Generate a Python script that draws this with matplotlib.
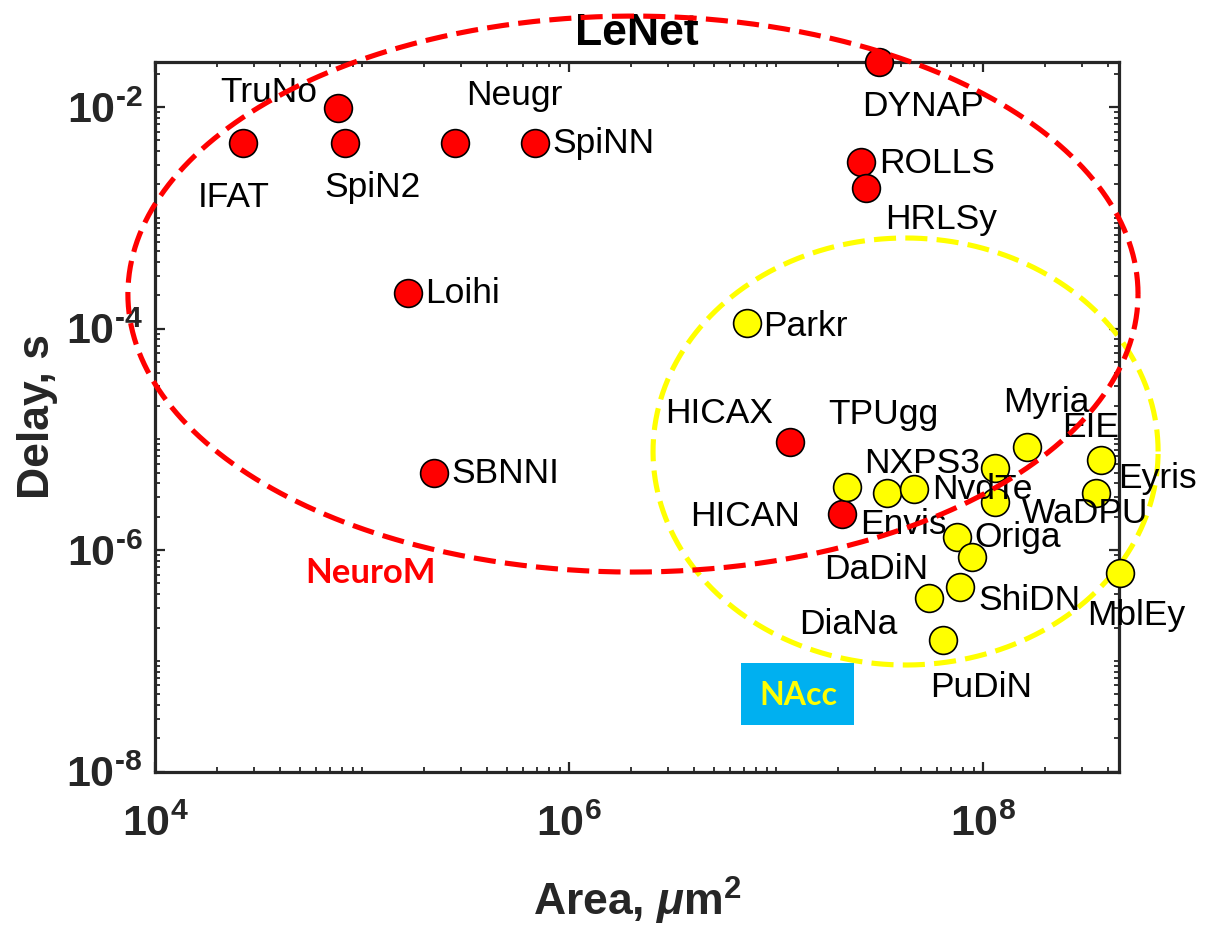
import numpy as np
import matplotlib
matplotlib.use("Agg")
import matplotlib.pyplot as plt
from matplotlib import font_manager, ticker
from matplotlib.patches import Rectangle

# ---------------- data ----------------
neuro_names = ["IFAT", "TruNo", "SpiN2", "Neugr", "SpiNN", "DYNAP", "ROLLS",
               "HRLSy", "Loihi", "SBNNI", "HICAX", "HICAN"]
neuro_area = [2.66e4, 7.69e4, 8.31e4, 2.80e5, 6.84e5, 3.15e7, 2.57e7,
              2.71e7, 1.67e5, 2.24e5, 1.175e7, 2.09e7]
neuro_delay = [4.69e-3, 9.70e-3, 4.69e-3, 4.69e-3, 4.69e-3, 2.56e-2, 3.20e-3,
               1.87e-3, 2.10e-4, 4.93e-6, 9.40e-6, 2.12e-6]

acc_names = ["Parkr", "Envis", "TPUgg", "NXPS3", "NvdTe", "WaDPU", "Myria",
             "EIE", "Eyris", "Origa", "DaDiN", "ShiDN", "DiaNa", "PuDiN", "MblEy"]
acc_area = [7.24e6, 2.21e7, 3.43e7, 4.64e7, 1.14e8, 1.14e8, 1.64e8,
            3.70e8, 3.50e8, 7.46e7, 8.82e7, 7.74e7, 5.48e7, 6.41e7, 4.59e8]
acc_delay = [1.12e-4, 3.69e-6, 3.26e-6, 3.54e-6, 5.47e-6, 2.74e-6, 8.57e-6,
             6.50e-6, 3.26e-6, 1.32e-6, 8.71e-7, 4.68e-7, 3.67e-7, 1.55e-7, 6.18e-7]

# group ellipses: (log10 centre area, log10 centre delay, half-width in decades x, y)
neuro_ellipse = [6.309, -3.689, 2.440, 2.509]
acc_ellipse = [7.626, -5.110, 1.220, 1.927]

x_ticks = [1e4, 1e6, 1e8]
y_ticks = [1e-8, 1e-6, 1e-4, 1e-2]
x_lim = [1e4, 4.54e8]
y_lim = [1e-8, 2.56e-2]

# label offsets (points) relative to each marker
neuro_offsets = [(-32.8, -45.9), (-85.2, 4.5), (-15.4, -38.7), (8.2, 27.6),
                 (12.3, -7.0), (-12.2, -39.1), (13.0, -8.1), (13.9, -29.7),
                 (12.0, -7.4), (12.5, -7.0), (-90.4, 13.9), (-109.2, -8.6)]
acc_offsets = [(11.5, -9.4), (9.1, -33.6), (-42.3, 49.9), (-36.0, 11.7),
               (-45.4, -22.1), (19.4, -15.3), (-17.8, 25.0), (-27.9, 16.6),
               (16.1, 3.8), (12.5, -7.4), (-106.3, -16.1), (13.0, -16.8),
               (-93.6, -25.7), (-9.4, -41.0), (-23.8, -37.2)]

# ---------------- fonts ----------------
names = {f.name for f in font_manager.fontManager.ttflist}
narrow = "Liberation Sans Narrow" if "Liberation Sans Narrow" in names else "Liberation Sans"
calib = "Lato" if "Lato" in names else "Liberation Sans"

plt.rcParams["font.family"] = ["Liberation Sans", "DejaVu Sans"]
plt.rcParams["mathtext.fontset"] = "custom"
plt.rcParams["mathtext.rm"] = narrow + ":bold"
plt.rcParams["mathtext.bf"] = narrow + ":bold"
plt.rcParams["mathtext.it"] = "Liberation Sans:bold:italic"

frame_col = "#262626"

fig = plt.figure(figsize=(12.07, 9.35), dpi=100)
ax = fig.add_axes([0.12842, 0.17465, 0.79867, 0.75936])
ax.set_xscale("log")
ax.set_yscale("log")
ax.set_xlim(x_lim)
ax.set_ylim(y_lim)

# ellipses
t = np.linspace(0, 2 * np.pi, 800)
for (cx, cy, a, b), col, z in [(acc_ellipse, "#FFFF00", 2), (neuro_ellipse, "#FF0000", 6)]:
    ex = 10 ** (cx + a * np.cos(t))
    ey = 10 ** (cy + b * np.sin(t))
    ax.plot(ex, ey, color=col, lw=3.7, linestyle=(0, (4.3, 1.8)),
            clip_on=False, zorder=z)

# markers
ax.plot(neuro_area, neuro_delay, "o", ms=20, mfc="#FF0000", mec="black",
        mew=1.2, ls="none", clip_on=False, zorder=4)
ax.plot(acc_area, acc_delay, "o", ms=20, mfc="#FFFF00", mec="black",
        mew=1.2, ls="none", clip_on=False, zorder=4)

for nm, xv, yv, off in zip(neuro_names + acc_names, neuro_area + acc_area,
                           neuro_delay + acc_delay, neuro_offsets + acc_offsets):
    ax.annotate(nm, (xv, yv), xytext=off, textcoords="offset points",
                ha="left", va="baseline", fontsize=25.5, color="black",
                annotation_clip=False, zorder=5)

# group tags
ax.text(0.224, 0.2658, "NeuroM", transform=ax.transAxes, ha="center",
        va="baseline", fontsize=25, fontweight="bold", color="#FF0000",
        family=[calib, "DejaVu Sans"], zorder=5)
ax.add_patch(Rectangle((0.6076, 0.0658), 0.1175, 0.0877, transform=ax.transAxes,
                       facecolor="#00B0F0", edgecolor="none", zorder=5))
ax.text(0.6675, 0.0939, "NAcc", transform=ax.transAxes, ha="center",
        va="baseline", fontsize=23, fontweight="bold", color="#FFFF00",
        family=[calib, "DejaVu Sans"], zorder=6)

# ticks
def fmt_func(v, p):
    e = int(round(np.log10(v)))
    if e < 0:
        return r"$\mathbf{10^{\text{-}%d}}$" % (-e)
    return r"$\mathbf{10^{%d}}$" % e

fmt = ticker.FuncFormatter(fmt_func)
ax.xaxis.set_major_locator(ticker.FixedLocator(x_ticks))
ax.yaxis.set_major_locator(ticker.FixedLocator(y_ticks))
ax.xaxis.set_major_formatter(fmt)
ax.yaxis.set_major_formatter(fmt)
ax.xaxis.set_minor_locator(ticker.LogLocator(base=10, subs=np.arange(1, 10), numticks=100))
ax.yaxis.set_minor_locator(ticker.LogLocator(base=10, subs=np.arange(1, 10), numticks=100))
ax.xaxis.set_minor_formatter(ticker.NullFormatter())
ax.yaxis.set_minor_formatter(ticker.NullFormatter())
ax.tick_params(which="both", direction="in", top=True, right=True, color=frame_col)
ax.tick_params(which="major", length=7, width=1.6, labelsize=31, labelcolor=frame_col)
ax.tick_params(which="minor", length=3.8, width=1.3)
ax.tick_params(axis="x", which="major", pad=24)
ax.tick_params(axis="y", which="major", pad=9)

for s in ax.spines.values():
    s.set_linewidth(2.3)
    s.set_color(frame_col)
    s.set_zorder(3)

ax.set_xlabel(r"Area, $\mathit{\mu}$m$^{2}$", fontsize=32, fontweight="bold", color=frame_col)
ax.xaxis.set_label_coords(0.5, -0.145)
ax.set_ylabel("Delay, s", fontsize=32, fontweight="bold", color=frame_col)
ax.yaxis.set_label_coords(-0.101, 0.5)
ax.set_title("LeNet", fontsize=32, fontweight="bold", color="black", pad=12)

fig.savefig("out.png", dpi=100)
